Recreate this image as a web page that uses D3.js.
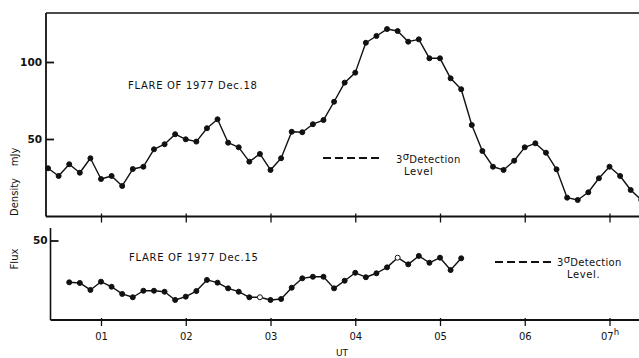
<!DOCTYPE html>
<html>
<head>
<meta charset="utf-8">
<script src="https://cdn.jsdelivr.net/npm/d3@7"></script>
<style>
  html, body { margin: 0; padding: 0; background: #fff; }
  svg { display: block; }
  text { font-family: "DejaVu Sans", "Liberation Sans", sans-serif; fill: #111; }
</style>
</head>
<body>
<svg id="chart" width="639" height="358"></svg>
<script>
// Hour tick labels (UT)
const hourTicks = [1, 2, 3, 4, 5, 6, 7];
const hourLabels = ["01", "02", "03", "04", "05", "06", "07"];

// Flare of 1977 Dec.18 — sample times (h UT) and flux density (mJy)
const dec18Times = [0.375, 0.5, 0.625, 0.75, 0.875, 1, 1.125, 1.25, 1.375, 1.5,
  1.625, 1.75, 1.875, 2, 2.125, 2.25, 2.375, 2.5, 2.625, 2.75,
  2.875, 3, 3.125, 3.25, 3.375, 3.5, 3.625, 3.75, 3.875, 4,
  4.125, 4.25, 4.375, 4.5, 4.625, 4.75, 4.875, 5, 5.125, 5.25,
  5.375, 5.5, 5.625, 5.75, 5.875, 6, 6.125, 6.25, 6.375, 6.5,
  6.625, 6.75, 6.875, 7, 7.125, 7.25, 7.375];
const dec18Flux = [31.0, 26.0, 33.6, 28.1, 37.5, 24.0, 26.0, 19.5, 30.5, 32.0,
  43.3, 46.6, 53.1, 49.8, 48.3, 57.0, 62.8, 47.6, 44.6, 35.3,
  40.3, 29.9, 37.5, 54.7, 54.4, 59.6, 62.3, 74.2, 86.6, 93.1,
  112.5, 116.9, 121.4, 120.1, 113.2, 114.7, 102.4, 102.4, 89.4, 82.3,
  59.1, 42.2, 32.0, 29.9, 35.9, 44.6, 47.2, 41.1, 30.3, 11.9,
  10.4, 15.4, 24.5, 32.0, 26.0, 16.9, 10.4];

// Flare of 1977 Dec.15 — sample times (h UT) and flux density (mJy)
const dec15Times = [0.625, 0.75, 0.875, 1, 1.125, 1.25, 1.375, 1.5, 1.625, 1.75,
  1.875, 2, 2.125, 2.25, 2.375, 2.5, 2.625, 2.75, 2.875, 3,
  3.125, 3.25, 3.375, 3.5, 3.625, 3.75, 3.875, 4, 4.125, 4.25,
  4.375, 4.5, 4.625, 4.75, 4.875, 5, 5.125, 5.25];
const dec15Flux = [23.7, 23.3, 18.9, 24.1, 20.9, 16.4, 14.3, 18.4, 18.4, 17.8,
  12.6, 14.7, 18.2, 25.2, 23.5, 19.9, 17.8, 14.3, 14.3, 12.6,
  13.2, 20.3, 26.2, 27.2, 27.2, 19.9, 24.7, 29.7, 26.9, 29.4,
  33.1, 39.2, 35.0, 40.3, 36.0, 39.2, 31.4, 38.8];
// samples drawn as open circles
const dec15Open = [2.875, 4.5];

const topTicks = [50, 100];
const bottomTicks = [50];

const svg = d3.select("#chart");
const W = 639;
const ink = "#111";

// Shared time axis
const x = d3.scaleLinear().domain([1, 7]).range([101, 609.5]);

// Upper panel (Dec.18)
const upper = { left: 46, right: W, top: 13, bottom: 216.5 };
const yTop = d3.scaleLinear().domain([0, 50]).range([216, 139]);

// Lower panel (Dec.15)
const lower = { left: 50.5, right: W, top: 228, bottom: 320 };
const yBot = d3.scaleLinear().domain([0, 50]).range([320, 240.5]);

// ---------- upper panel frame ----------
svg.append("line").attr("x1", upper.left).attr("x2", upper.right)
  .attr("y1", upper.top).attr("y2", upper.top)
  .attr("stroke", ink).attr("stroke-width", 1.6);
svg.append("line").attr("x1", upper.left).attr("x2", upper.left)
  .attr("y1", upper.top).attr("y2", upper.bottom)
  .attr("stroke", ink).attr("stroke-width", 1.8);
svg.append("line").attr("x1", upper.left).attr("x2", upper.right)
  .attr("y1", upper.bottom).attr("y2", upper.bottom)
  .attr("stroke", ink).attr("stroke-width", 2);

// upper x ticks (no labels)
const gxTop = svg.append("g").attr("transform", `translate(0,${upper.bottom})`)
  .call(d3.axisBottom(x).tickValues(hourTicks).tickSizeInner(6).tickSizeOuter(0).tickFormat(""));
gxTop.select(".domain").remove();
gxTop.selectAll(".tick line").attr("y1", -3).attr("stroke", ink).attr("stroke-width", 1.3);

// upper y axis, ticks pointing inward
const gyTop = svg.append("g").attr("transform", `translate(${upper.left},0)`)
  .call(d3.axisLeft(yTop).tickValues(topTicks).tickSizeInner(-8).tickSizeOuter(0).tickPadding(4));
gyTop.select(".domain").remove();
gyTop.selectAll(".tick line").attr("stroke", ink).attr("stroke-width", 1.8);
gyTop.selectAll(".tick text").attr("font-size", 10.5).attr("font-weight", "bold")
  .attr("font-family", "DejaVu Sans").attr("fill", ink);

// ---------- lower panel frame ----------
svg.append("line").attr("x1", lower.left).attr("x2", lower.left)
  .attr("y1", lower.top).attr("y2", lower.bottom)
  .attr("stroke", ink).attr("stroke-width", 1.6);
svg.append("line").attr("x1", lower.left).attr("x2", lower.right)
  .attr("y1", lower.bottom).attr("y2", lower.bottom)
  .attr("stroke", ink).attr("stroke-width", 2);

const gxBot = svg.append("g").attr("transform", `translate(0,${lower.bottom})`)
  .call(d3.axisBottom(x).tickValues(hourTicks).tickSizeInner(6).tickSizeOuter(0)
    .tickPadding(7).tickFormat((d, i) => hourLabels[i]));
gxBot.select(".domain").remove();
gxBot.selectAll(".tick line").attr("y1", -2).attr("stroke", ink).attr("stroke-width", 1.3);
gxBot.selectAll(".tick text").attr("font-size", 10).attr("font-family", "DejaVu Sans").attr("fill", ink);
gxBot.selectAll(".tick").filter(d => d === 7).select("text")
  .append("tspan").attr("dy", -5).attr("font-size", 8.5).text("h");

const gyBot = svg.append("g").attr("transform", `translate(${lower.left},0)`)
  .call(d3.axisLeft(yBot).tickValues(bottomTicks).tickSizeInner(-8).tickSizeOuter(0).tickPadding(3));
gyBot.select(".domain").remove();
gyBot.selectAll(".tick line").attr("stroke", ink).attr("stroke-width", 1.8);
gyBot.selectAll(".tick text").attr("font-size", 10.5).attr("font-weight", "bold")
  .attr("font-family", "DejaVu Sans").attr("fill", ink);

// ---------- data ----------
svg.append("clipPath").attr("id", "clip").append("rect")
  .attr("x", 0).attr("y", 0).attr("width", W).attr("height", 358);

function drawSeries(times, values, yScale, openSet) {
  const data = times.map((t, i) => ({ t, v: values[i] }));
  const g = svg.append("g").attr("clip-path", "url(#clip)");
  g.append("path").datum(data)
    .attr("d", d3.line().x(d => x(d.t)).y(d => yScale(d.v)))
    .attr("fill", "none").attr("stroke", ink).attr("stroke-width", 1.4)
    .attr("stroke-linejoin", "round");
  g.selectAll("circle").data(data).join("circle")
    .attr("cx", d => x(d.t)).attr("cy", d => yScale(d.v)).attr("r", 2.5)
    .attr("fill", d => openSet.includes(d.t) ? "#fff" : ink)
    .attr("stroke", ink).attr("stroke-width", 1);
}
drawSeries(dec18Times, dec18Flux, yTop, []);
drawSeries(dec15Times, dec15Flux, yBot, dec15Open);

// ---------- annotations ----------
function label(txt, xx, yy, opts = {}) {
  return svg.append("text").attr("x", xx).attr("y", yy)
    .attr("font-size", opts.size || 10)
    .attr("letter-spacing", opts.ls || 0)
    .attr("text-anchor", opts.anchor || "start")
    .text(txt);
}

label("FLARE OF 1977 Dec.18", 128, 89, { size: 10, ls: 0.7 });
label("FLARE OF 1977 Dec.15", 129, 261, { size: 10, ls: 0.7 });

// 3-sigma detection level keys
function sigmaKey(x1, x2, yy, tx, ty, levelX, levelY, levelText) {
  svg.append("line").attr("x1", x1).attr("x2", x2).attr("y1", yy).attr("y2", yy)
    .attr("stroke", ink).attr("stroke-width", 2).attr("stroke-dasharray", "8,4");
  const t = svg.append("text").attr("x", tx).attr("y", ty).attr("font-size", 10).attr("letter-spacing", 0.3);
  t.append("tspan").text("3");
  t.append("tspan").attr("dy", -3).text("σ");
  t.append("tspan").attr("dy", 3).text("Detection");
  label(levelText, levelX, levelY, { size: 10, ls: 0.6 });
}
sigmaKey(323, 383, 158, 396, 163, 404, 175, "Level");
sigmaKey(495, 552, 262, 557, 266, 567, 278, "Level.");

// axis titles
svg.append("text").attr("transform", "translate(18,157) rotate(-90)")
  .attr("text-anchor", "middle").attr("font-size", 10).text("mJy");
svg.append("text").attr("transform", "translate(18,197) rotate(-90)")
  .attr("text-anchor", "middle").attr("font-size", 10).text("Density");
svg.append("text").attr("transform", "translate(18,259) rotate(-90)")
  .attr("text-anchor", "middle").attr("font-size", 10).text("Flux");

label("UT", 342, 356, { size: 9, anchor: "middle" });
</script>
</body>
</html>
